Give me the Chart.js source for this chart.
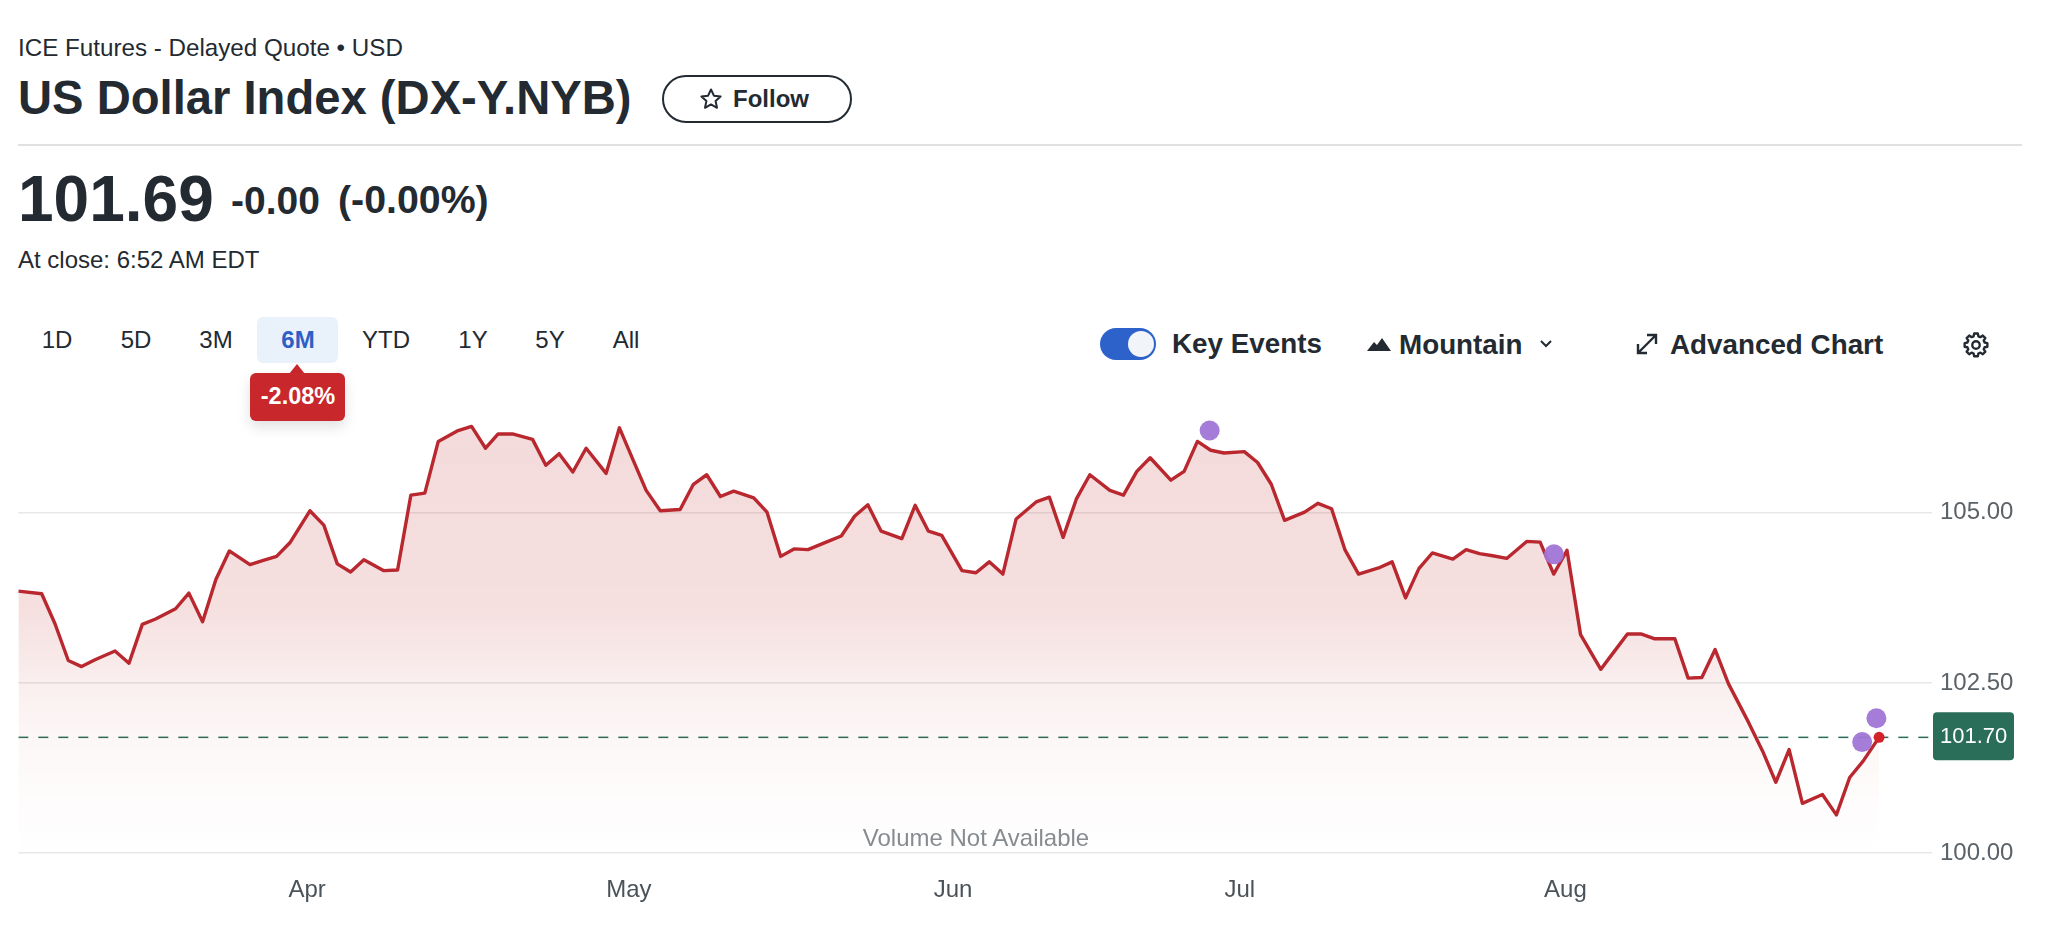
<!DOCTYPE html>
<html>
<head>
<meta charset="utf-8">
<title>US Dollar Index (DX-Y.NYB)</title>
<script src="https://cdn.jsdelivr.net/npm/chart.js@4"></script>
<style>
  html, body { margin: 0; padding: 0; background: #fff; overflow: hidden; width: 2060px; height: 940px; }
  body { font-family: "Liberation Sans", Arial, sans-serif; color: #232a31; position: relative; }
  .t { position: absolute; white-space: nowrap; transform: translateY(-50%); line-height: 1; }
  .c { transform: translate(-50%, -50%); }
  .b { font-weight: 700; }
  .box { position: absolute; box-sizing: border-box; }
  svg { position: absolute; }
  #priceChart { position: absolute; left: 0; top: 394px; }
</style>
</head>
<body>

<div class="t" style="left:18px;top:48px;font-size:24.2px">ICE Futures - Delayed Quote • USD</div>
<div class="t b" style="left:18px;top:98px;font-size:47.2px">US Dollar Index (DX-Y.NYB)</div>
<div class="box" style="left:662px;top:75px;width:190px;height:48px;border:2.5px solid #232a31;border-radius:24px"></div>
<svg style="left:699px;top:87px" width="24" height="24" viewBox="0 0 24 24"><path d="M12 2.5l2.9 6.2 6.7.8-5 4.6 1.4 6.7-6-3.4-6 3.4 1.4-6.7-5-4.6 6.7-.8z" fill="none" stroke="#232a31" stroke-width="2" stroke-linejoin="round"/></svg>
<div class="t b" style="left:733px;top:99px;font-size:24px">Follow</div>
<div class="box" style="left:18px;top:144px;width:2004px;height:2px;background:#e0e1e2"></div>

<div class="t b" style="left:18px;top:199px;font-size:64px">101.69</div>
<div class="t b" style="left:231px;top:200px;font-size:39px">-0.00</div>
<div class="t b" style="left:338px;top:200px;font-size:39.3px">(-0.00%)</div>
<div class="t" style="left:18px;top:260px;font-size:24px">At close: 6:52 AM EDT</div>

<div class="box" style="left:257px;top:317px;width:81px;height:46px;background:#e9f2fb;border-radius:6px"></div>
<div class="t c" style="left:57px;top:340px;font-size:24px">1D</div>
<div class="t c" style="left:136px;top:340px;font-size:24px">5D</div>
<div class="t c" style="left:216px;top:340px;font-size:24px">3M</div>
<div class="t c b" style="left:298px;top:340px;font-size:24px;color:#2e5fc7">6M</div>
<div class="t c" style="left:386px;top:340px;font-size:24px">YTD</div>
<div class="t c" style="left:473px;top:340px;font-size:24px">1Y</div>
<div class="t c" style="left:550px;top:340px;font-size:24px">5Y</div>
<div class="t c" style="left:626px;top:340px;font-size:24px">All</div>

<svg style="left:287px;top:364px" width="20" height="10"><path d="M10 0L18 10H2z" fill="#c8282c"/></svg>
<div class="box" style="left:250px;top:373px;width:95px;height:48px;background:#c8282c;border-radius:6px;box-shadow:0 6px 14px rgba(0,0,0,.12)"></div>
<div class="t c b" style="left:298px;top:397px;font-size:23.5px;color:#fff">-2.08%</div>

<div class="box" style="left:1100px;top:328px;width:56px;height:32px;background:#2e62cb;border-radius:16px"></div>
<div class="box" style="left:1128px;top:331px;width:26px;height:26px;background:#f1f4f8;border-radius:50%"></div>
<div class="t b" style="left:1172px;top:344px;font-size:27.8px">Key Events</div>
<svg style="left:1366px;top:335px" width="26" height="18" viewBox="0 0 26 18"><path d="M1 16L8 7l3 3 5-7 9 13z" fill="#232a31"/></svg>
<div class="t b" style="left:1399px;top:345px;font-size:27.8px">Mountain</div>
<svg style="left:1538px;top:338px" width="16" height="12" viewBox="0 0 16 12"><path d="M3 3l5 5 5-5" fill="none" stroke="#232a31" stroke-width="2"/></svg>
<svg style="left:1635px;top:332px" width="24" height="24" viewBox="0 0 24 24"><path d="M3 21L21 3M12 3h9v9M3 12v9h9" fill="none" stroke="#232a31" stroke-width="2.4"/></svg>
<div class="t b" style="left:1670px;top:345px;font-size:27.8px">Advanced Chart</div>
<svg style="left:1962px;top:331px" width="28" height="28" viewBox="0 0 24 24"><circle cx="12" cy="12" r="3.2" fill="none" stroke="#232a31" stroke-width="2"/><path d="M10.3 2.5h3.4l.5 2.6 1.9.8 2.2-1.5 2.4 2.4-1.5 2.2.8 1.9 2.6.5v3.4l-2.6.5-.8 1.9 1.5 2.2-2.4 2.4-2.2-1.5-1.9.8-.5 2.6h-3.4l-.5-2.6-1.9-.8-2.2 1.5-2.4-2.4 1.5-2.2-.8-1.9-2.6-.5v-3.4l2.6-.5.8-1.9-1.5-2.2 2.4-2.4 2.2 1.5 1.9-.8z" fill="none" stroke="#232a31" stroke-width="2.2" stroke-linejoin="round" transform="translate(12 12) scale(.92) translate(-12 -13.2)"/></svg>

<canvas id="priceChart" width="2060" height="546"></canvas>

<div class="t c" style="left:976px;top:838px;font-size:24px;color:#878c91">Volume Not Available</div>

<script>
// session position on the time axis (weekends take up half a step extra)
var sessions = [
  0, 1.74, 2.73, 3.72, 4.71, 5.71, 7.20, 8.24, 9.23, 10.22, 11.71, 12.70, 13.72, 14.71, 15.71,
  17.25, 18.24, 19.23, 20.22, 21.71, 22.75, 23.75, 24.74, 25.73, 27.22, 28.24, 29.23, 30.27, 31.27,
  32.75, 33.75, 34.79, 35.73, 36.80, 38.29, 39.28, 40.27, 41.29, 42.28, 43.77, 44.76, 45.75, 46.75, 47.80,
  49.28, 50.27, 51.26, 52.28, 53.27, 54.76, 55.75, 56.77, 57.76, 58.80, 60.29, 61.28, 62.27, 63.26, 64.25,
  65.79, 66.78, 67.77, 68.76, 70.27, 71.31, 72.30, 73.31, 74.30, 75.79, 76.78, 77.80, 78.80, 79.79,
  81.28, 82.29, 83.29, 84.28, 85.82, 86.81, 87.80, 88.79, 89.78, 91.29, 92.28, 93.30, 94.29,
  95.78, 96.77, 97.79, 98.78, 99.80, 101.29, 102.30, 103.30, 104.29, 105.29,
  106.82, 107.81, 108.80, 109.79, 110.83, 112.32, 113.32, 114.33, 115.32, 116.33,
  117.84, 118.83, 119.82, 120.82, 121.81, 123.35, 124.34, 125.36, 126.35, 127.34,
  128.84, 129.88, 130.87, 131.86, 132.85, 134.34, 135.38, 136.37, 137.37, 138.56
];
var closes = [
  103.85, 103.81, 103.37, 102.83, 102.74, 102.84, 102.97, 102.79, 103.36, 103.44, 103.59, 103.82, 103.40, 104.02, 104.44,
  104.24, 104.30, 104.36, 104.56, 105.03, 104.82, 104.25, 104.13, 104.31, 104.15, 104.16, 105.26, 105.29, 106.05,
  106.21, 106.27, 105.95, 106.16, 106.16, 106.08, 105.70, 105.87, 105.60, 105.95, 105.58, 106.25, 105.79, 105.33, 105.03,
  105.05, 105.42, 105.56, 105.24, 105.32, 105.22, 105.01, 104.36, 104.47, 104.46, 104.58, 104.66, 104.95, 105.12, 104.73,
  104.62, 105.11, 104.73, 104.67, 104.15, 104.12, 104.28, 104.10, 104.91, 105.16, 105.23, 104.64, 105.21, 105.56,
  105.33, 105.26, 105.61, 105.81, 105.48, 105.61, 106.05, 105.92, 105.88, 105.90, 105.74, 105.42, 104.89,
  105.01, 105.14, 105.06, 104.46, 104.10, 104.19, 104.28, 103.75, 104.18, 104.41,
  104.32, 104.46, 104.40, 104.37, 104.33, 104.58, 104.57, 104.10, 104.45, 103.21,
  102.70, 102.96, 103.22, 103.22, 103.15, 103.15, 102.57, 102.58, 102.99, 102.49,
  101.92, 101.50, 101.04, 101.52, 100.73, 100.86, 100.56, 101.11, 101.35, 101.70
];
var eventSessions = [88.71, 114.35, 137.3, 138.36];
var eventValues = [106.21, 104.39, 101.63, 101.98];
var monthLabels = ["Apr", "May", "Jun", "Jul", "Aug"];
var monthSessions = [21.5, 45.46, 69.6, 90.95, 115.2];
var priceTicks = [100, 102.5, 105];
var lastPrice = 101.70;
var xEnd = 142.5;

var linePoints = sessions.map(function(s, i){ return {x: s, y: closes[i]}; });
var eventPoints = eventSessions.map(function(s, i){ return {x: s, y: eventValues[i]}; });

function areaFill(context){
  var area = context.chart.chartArea;
  if(!area) return "rgba(198,40,40,0.15)";
  var g = context.chart.ctx.createLinearGradient(0, area.top, 0, area.bottom);
  g.addColorStop(0, "rgba(190,40,40,0.17)");
  g.addColorStop(0.45, "rgba(190,40,40,0.15)");
  g.addColorStop(0.62, "rgba(190,40,40,0.08)");
  g.addColorStop(0.75, "rgba(190,40,40,0.035)");
  g.addColorStop(1, "rgba(190,40,40,0)");
  return g;
}

// green price tag at the right end of the dashed line
var priceTag = {
  id: "priceTag",
  afterDraw: function(chart){
    var ctx = chart.ctx;
    var y = chart.scales.y.getPixelForValue(lastPrice);
    var x = chart.chartArea.right + 1;
    ctx.save();
    ctx.fillStyle = "#2a6e5a";
    ctx.beginPath();
    ctx.roundRect(x, y - 25, 81, 48, 4);
    ctx.fill();
    ctx.fillStyle = "#fff";
    ctx.font = "22px 'Liberation Sans'";
    ctx.textBaseline = "middle";
    ctx.fillText(lastPrice.toFixed(2), x + 7, y);
    ctx.restore();
  }
};

new Chart("priceChart", {
  type: "line",
  plugins: [priceTag],
  data: {
    datasets: [
      {
        label: "Previous",
        data: [{x: 0, y: lastPrice}, {x: xEnd, y: lastPrice}],
        borderColor: "#2a6e5a",
        borderWidth: 1.5,
        borderDash: [10, 10],
        pointRadius: 0,
        order: 4
      },
      {
        label: "DX-Y.NYB",
        data: linePoints,
        borderColor: "#b9272f",
        borderWidth: 3.4,
        borderJoinStyle: "round",
        tension: 0,
        pointRadius: 0,
        fill: "start",
        backgroundColor: areaFill,
        order: 3
      },
      {
        label: "Key Events",
        data: eventPoints,
        showLine: false,
        pointRadius: 10,
        pointBorderWidth: 0,
        pointBackgroundColor: "rgba(160,118,214,0.95)",
        clip: false,
        order: 2
      },
      {
        label: "Last",
        data: [{x: sessions[sessions.length - 1], y: lastPrice}],
        showLine: false,
        pointRadius: 5.5,
        pointBorderWidth: 0,
        pointBackgroundColor: "#d3222a",
        clip: false,
        order: 1
      }
    ]
  },
  options: {
    responsive: false,
    animation: false,
    events: [],
    layout: {padding: {left: 18.33, top: 3, right: 0, bottom: 0}},
    plugins: {legend: {display: false}, tooltip: {enabled: false}},
    scales: {
      x: {
        type: "linear",
        min: 0,
        max: xEnd,
        grid: {display: false},
        border: {display: false},
        afterFit: function(scale){ scale.height = 87; },
        afterBuildTicks: function(scale){
          scale.ticks = monthSessions.map(function(s){ return {value: s}; });
        },
        ticks: {
          autoSkip: false,
          maxRotation: 0,
          padding: 14.5,
          color: "#4b5359",
          font: {family: "Liberation Sans", size: 24},
          callback: function(value, index){ return monthLabels[index]; }
        }
      },
      y: {
        position: "right",
        min: 100,
        max: 106.6,
        grid: {color: "#e8e8e8", lineWidth: 1.5, drawTicks: false},
        border: {display: false},
        afterFit: function(scale){ scale.width = 128; scale.paddingTop = 0; scale.paddingBottom = 0; },
        afterBuildTicks: function(scale){
          scale.ticks = priceTicks.map(function(v){ return {value: v}; });
        },
        ticks: {
          padding: 8,
          color: "#5b6268",
          font: {family: "Liberation Sans", size: 24},
          callback: function(value){ return value.toFixed(2); }
        }
      }
    }
  }
});
</script>
</body>
</html>
